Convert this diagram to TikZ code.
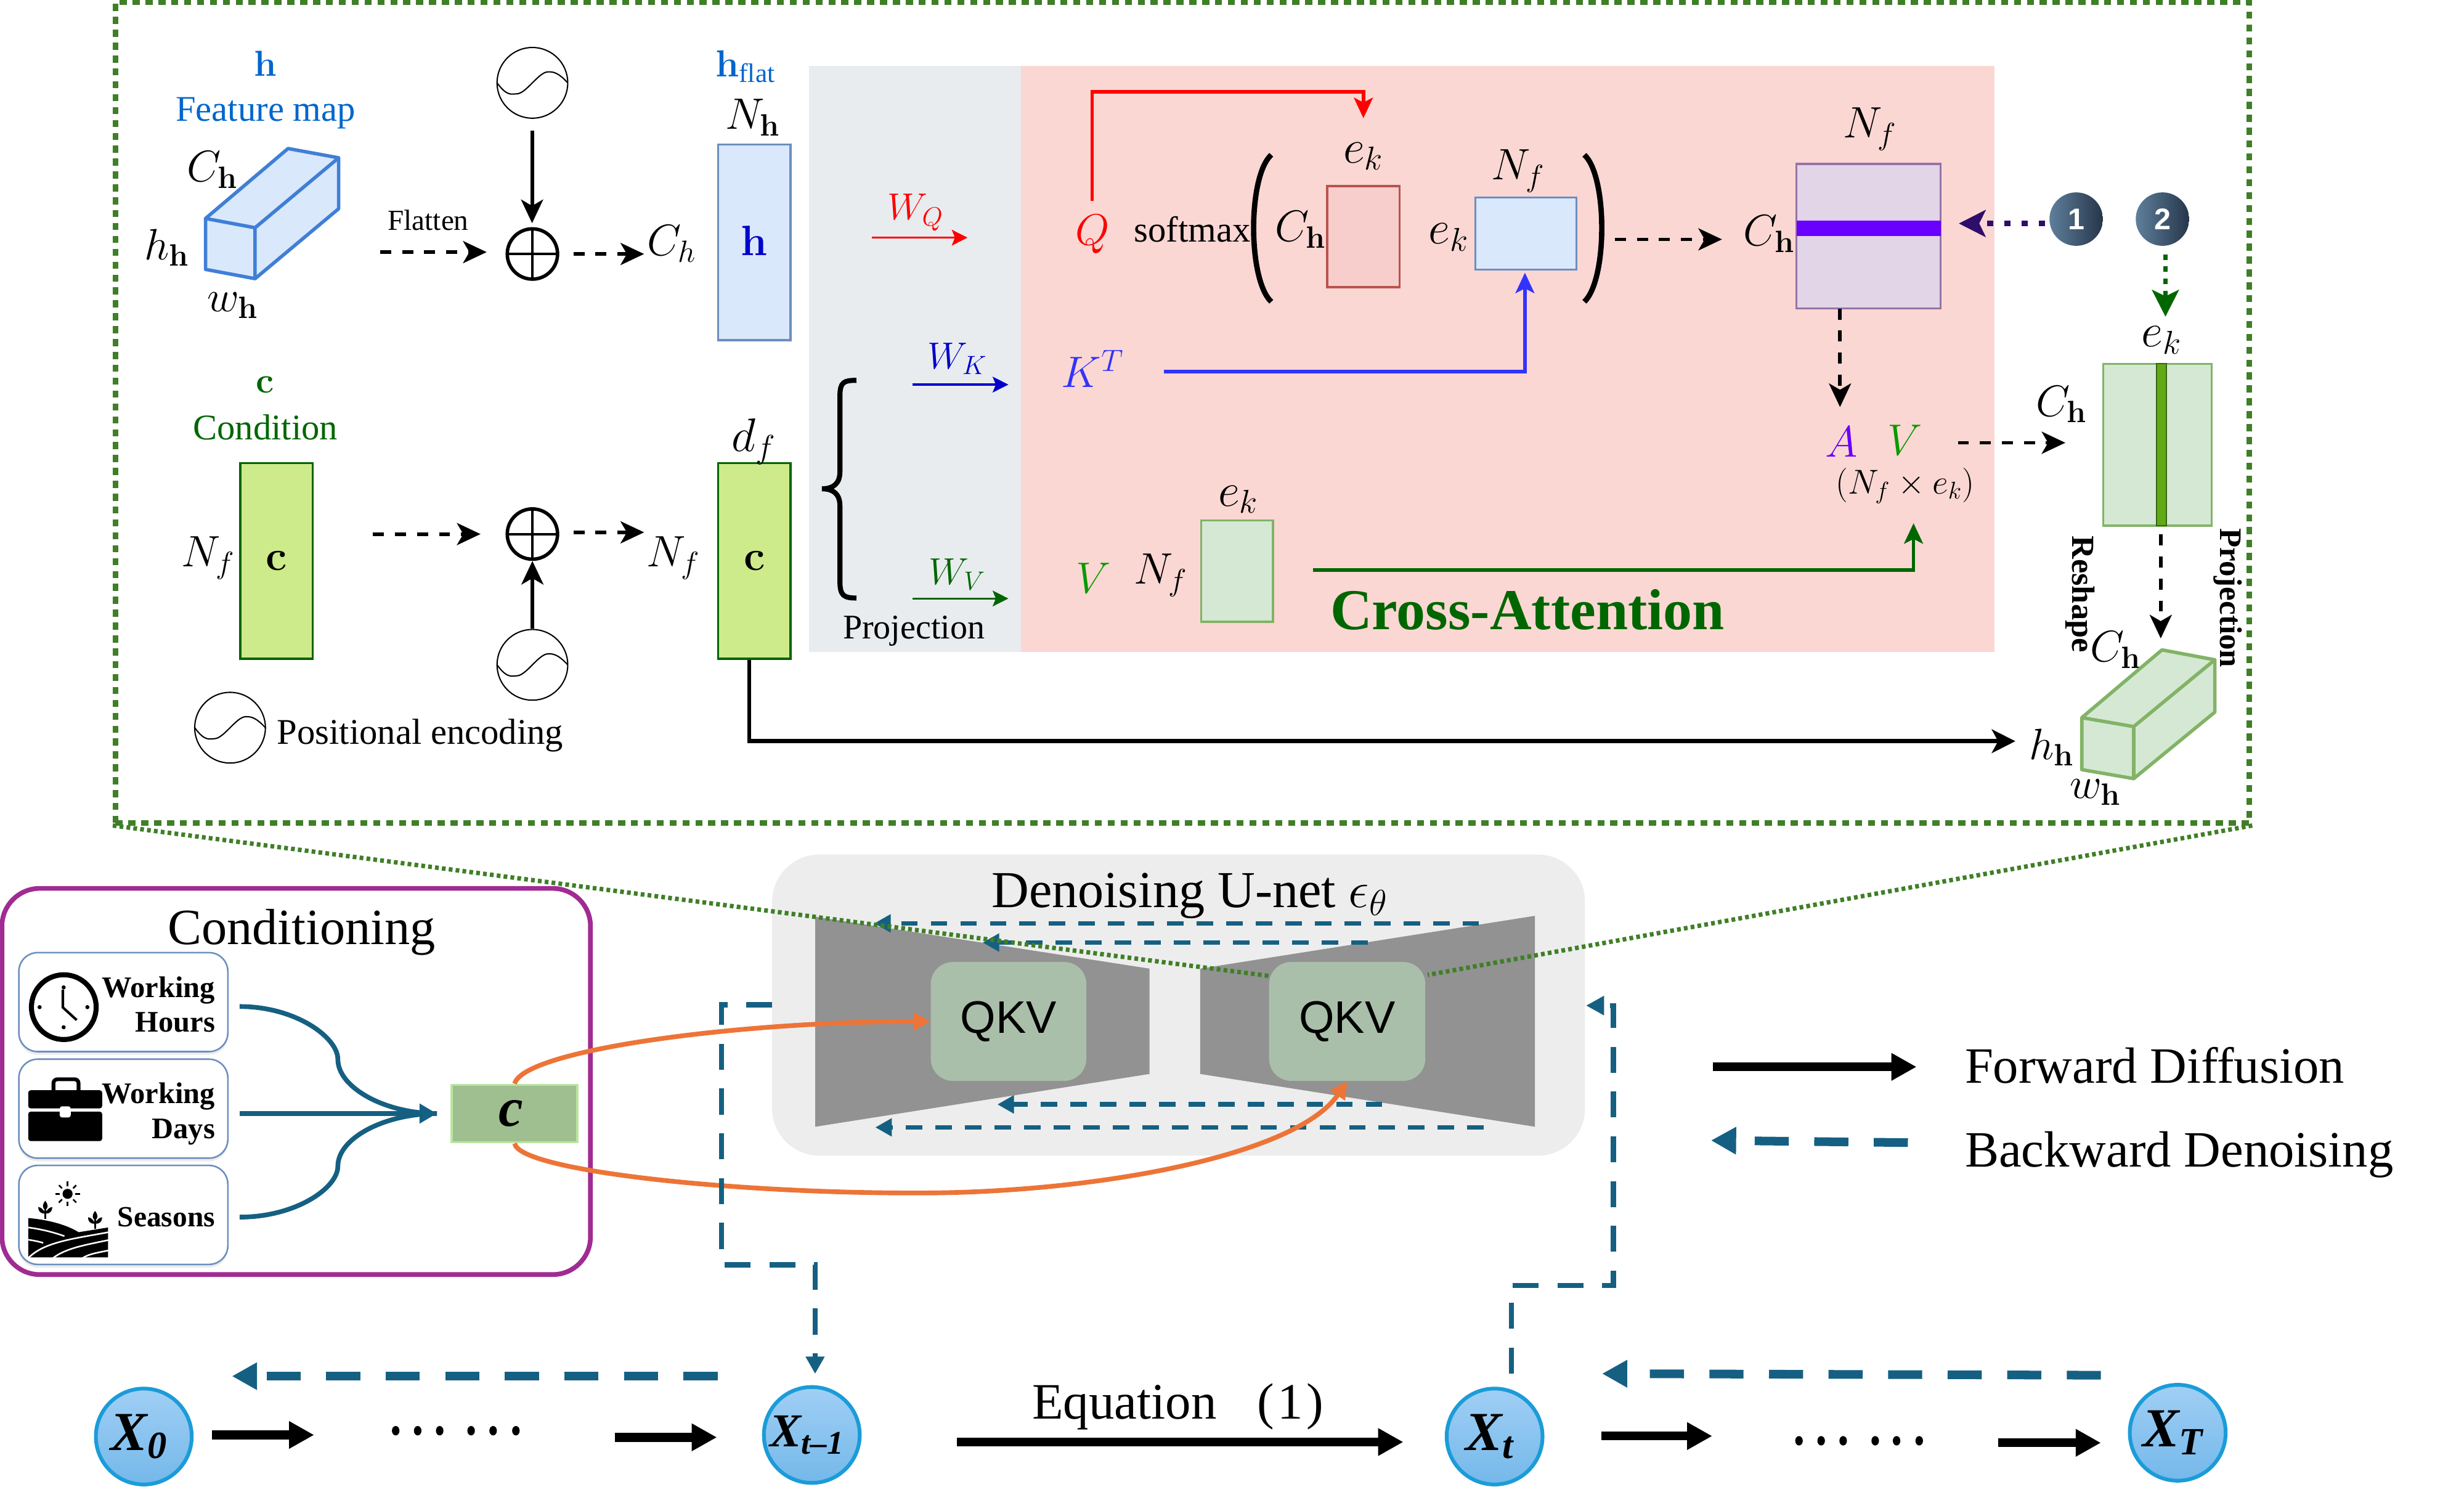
\documentclass[tikz,border=0pt]{standalone}
\usepackage{fix-cm}
\usepackage{amsmath, amssymb}
\usepackage[no-math]{fontspec}
\setmainfont{Liberation Serif}
\newfontfamily\sansfont{Liberation Sans}
\usepackage{tikz}
\usetikzlibrary{arrows.meta, shapes, shadows}

\newcommand{\fs}[1]{\fontsize{#1}{#1}\selectfont}
\newcommand{\balltext}[1]{\hspace*{-6pt}\raisebox{-3pt}{#1}}

\definecolor{boxgreen}{HTML}{3F7F27}
\definecolor{hblue}{HTML}{0066CC}
\definecolor{cgreen}{HTML}{006600}
\definecolor{vgreen}{HTML}{0A9900}
\definecolor{attnpurple}{HTML}{6A00FF}
\definecolor{arrowblue}{HTML}{156082}
\definecolor{arroworange}{HTML}{ED7437}
\definecolor{condpurple}{HTML}{A02B93}
\definecolor{cubeedge}{HTML}{3F7FD6}
\definecolor{blueface}{HTML}{DAE8FC}
\definecolor{blueedge}{HTML}{6C8EBF}
\definecolor{limeface}{HTML}{CDEB8B}
\definecolor{greenface}{HTML}{D5E8D4}
\definecolor{greenedge}{HTML}{82B366}
\definecolor{redface}{HTML}{F8CECC}
\definecolor{rededge}{HTML}{B85450}
\definecolor{purpface}{HTML}{E1D5E7}
\definecolor{purpedge}{HTML}{9673A6}
\definecolor{grayband}{HTML}{E9ECEF}
\definecolor{pinkband}{HTML}{FAD7D3}
\definecolor{unetback}{HTML}{EDEDED}
\definecolor{unetgray}{HTML}{929292}
\definecolor{qkvface}{HTML}{A9BFAA}
\definecolor{ballhigh}{HTML}{A0CFF5}
\definecolor{balllow}{HTML}{74B8EA}
\definecolor{balledge}{HTML}{1B9CD8}
\definecolor{stepdark}{HTML}{26364A}
\definecolor{steplight}{HTML}{5F7F9B}
\definecolor{stepline}{HTML}{2E0D6B}
\definecolor{bandgreen}{HTML}{60A917}
\definecolor{cboxface}{HTML}{A0BF90}
\definecolor{cboxedge}{HTML}{B9E5A0}
\definecolor{wblue}{HTML}{0000CC}
\definecolor{kblue}{HTML}{3333FF}

\tikzset{
  lab/.style={font=\fs{28}},
  labek/.style={font=\fs{30}},
  rect/.style={draw, line width=1.3pt, inner sep=0pt},
  dashblack/.style={line width=2.3pt, dash pattern=on 7pt off 7pt, -{Stealth[length=15pt,width=14pt,inset=4pt]}},
  solidblack/.style={line width=2.3pt, -{Stealth[length=15pt,width=14pt,inset=4pt]}},
  smallarrow/.style={line width=1.3pt, -{Stealth[length=10pt,width=10pt,inset=2pt]}},
  panelarrow/.style={line width=2.2pt, -{Stealth[length=13pt,width=12pt,inset=3pt]}},
  thindash/.style={color=arrowblue, line width=3.3pt, dash pattern=on 16.5pt off 12pt},
  unetdash/.style={color=arrowblue, line width=3pt, dash pattern=on 10.5pt off 8.3pt, -{Triangle[length=10.5pt,width=11pt]}},
  bigdash/.style={color=arrowblue, line width=5.5pt, dash pattern=on 21.7pt off 16.2pt, -{Triangle[length=16pt,width=16.5pt]}},
  bigsolid/.style={line width=5.6pt, -{Triangle[length=16pt,width=16.5pt]}},
  orangeline/.style={color=arroworange, line width=3pt, -{Triangle[length=11pt,width=11pt]}},
  sinenode/.style={circle, draw, line width=.8pt, minimum size=45pt, inner sep=0pt,
    path picture={\draw[line width=.8pt, shift={(path picture bounding box.center)}]
      (-22.5,0) .. controls (-16,9) and (-13,7) .. (-10,7)
      .. controls (-4,7) and (4,-7) .. (10,-7)
      .. controls (13,-7) and (16,-7) .. (22.5,0);}},
  plusnode/.style={circle, draw, line width=2.2pt, minimum size=32pt, inner sep=0pt,
    path picture={\draw[line width=1.5pt, shift={(path picture bounding box.center)}]
      (-17,0) -- (17,0) (0,-17) -- (0,17);}},
  itembox/.style={draw=blueedge, fill=white, line width=1pt, rounded corners=12pt, minimum width=133pt,
    minimum height=63pt, drop shadow={shadow xshift=0pt, shadow yshift=-2pt, fill=black!15}},
  itemtext/.style={font=\fs{19}\bfseries, anchor=east},
  xball/.style={circle, draw=balledge, line width=2.4pt, minimum size=61pt, inner sep=0pt,
    top color=ballhigh, bottom color=balllow, font=\fs{35}\bfseries\itshape},
  stepball/.style={circle, minimum size=34pt, inner sep=0pt, left color=steplight, right color=stepdark,
    text=white, font=\fs{19}\sansfont\bfseries},
}

\begin{document}
\begin{tikzpicture}[x=1pt, y=-1pt, every node/.append style={inner sep=0pt}]
\useasboundingbox (0,0) rectangle (1568,946.1);

\begin{scope}
    \node [fill=grayband, minimum width=135pt, minimum height=373pt] (projband) at (582.4,228.4) {};
    \node [fill=pinkband, minimum width=619.5pt, minimum height=373pt] (attnband) at (959.6,228.4) {};
    \node [draw=boxgreen, line width=3.5pt, dash pattern=on 4.5pt off 3.7pt, minimum width=1358pt, minimum height=522pt] (zoombox) at (752.5,262.5) {};

    % feature map
    \node [font=\fs{23}, text=hblue] (hlab) at (169,40.5) {$\mathbf{h}$};
    \node [font=\fs{23}, text=hblue] (hname) at (169,72) {Feature map};
    \node [lab] (Chtop) at (135.3,108) {$C_{\mathbf{h}}$};
    \node [lab] (hhtop) at (106.2,157.5) {$h_{\mathbf{h}}$};
    \node [lab] (whtop) at (148,194.4) {$w_{\mathbf{h}}$};
    \node [font=\fs{18.5}] (flat) at (272.5,140) {Flatten};
    \node [sinenode] (sineA) at (338.8,52.7) {};
    \node [plusnode] (plusA) at (338.8,161.6) {};
    \node [lab] (Chit) at (427.3,155) {$C_{h}$};
    \node [rect, draw=blueedge, fill=blueface, minimum width=46pt, minimum height=124.5pt, font=\fs{27}, text=wblue] (hflat) at (480.1,154.2) {\raisebox{2pt}{$\mathbf{h}$}};
    \node [font=\fs{24}, text=hblue] (hflatlab) at (474.4,42.3) {$\mathbf{h}_{\mbox{\fs{17}flat}}$};
    \node [lab] (Nh) at (479,74.7) {$N_{\mathbf{h}}$};

    % condition
    \node [font=\fs{23}, text=cgreen] (clab) at (168.6,244.8) {$\mathbf{c}$};
    \node [font=\fs{23}, text=cgreen] (cname) at (168.9,271.8) {Condition};
    \node [rect, draw=cgreen, fill=limeface, minimum width=46pt, minimum height=124.5pt, font=\fs{27}] (cin) at (175.9,356.9) {\raisebox{-2pt}{$\mathbf{c}$}};
    \node [lab] (Nfin) at (132.3,355) {$N_f$};
    \node [plusnode] (plusB) at (338.8,339.8) {};
    \node [sinenode] (sineB) at (338.8,423) {};
    \node [lab] (Nfout) at (428.5,355) {$N_f$};
    \node [rect, draw=cgreen, fill=limeface, minimum width=46pt, minimum height=124.5pt, font=\fs{27}] (cflat) at (480.1,356.9) {\raisebox{-2pt}{$\mathbf{c}$}};
    \node [labek] (df) at (479.8,280.9) {$d_f$};
    \node [sinenode] (sineC) at (146.4,463) {};
    \node [font=\fs{23}] (poslab) at (267.4,468) {Positional encoding};

    % projection
    \node [font=\fs{24}, text=red] (WQ) at (582.5,135.2) {$W_Q$};
    \node [font=\fs{24}, text=wblue] (WK) at (609.2,228.2) {$W_K$};
    \node [font=\fs{24}, text=cgreen] (WV) at (609.2,365.3) {$W_V$};
    \node [font=\fs{22}] (proj) at (581.6,401.5) {Projection};

    % cross attention
    \node [font=\fs{28}, text=red] (Q) at (695.3,149) {$Q$};
    \node [font=\fs{28}, text=kblue] (KT) at (695.3,234.5) {$K^T$};
    \node [font=\fs{28}, text=vgreen] (V) at (696,367.8) {$V$};
    \node [font=\fs{23}] (soft) at (758.7,146) {softmax};
    \node [lab] (Chq) at (827.7,146) {$C_{\mathbf{h}}$};
    \node [labek] (ekq) at (867.6,99.4) {$e_k$};
    \node [rect, draw=rededge, fill=redface, minimum width=46pt, minimum height=64.3pt] (qmat) at (867.6,150.5) {};
    \node [labek] (ekk) at (921.9,151) {$e_k$};
    \node [lab] (Nfk) at (966.1,108.9) {$N_f$};
    \node [rect, draw=blueedge, fill=blueface, minimum width=64.4pt, minimum height=45.8pt] (kmat) at (971,148.6) {};
    \node [lab] (Nfv) at (738.6,366) {$N_f$};
    \node [labek] (ekv) at (788,317.8) {$e_k$};
    \node [rect, draw=greenedge, fill=greenface, minimum width=45.8pt, minimum height=64.6pt] (vmat) at (787.2,363.3) {};
    \node [font=\fs{36.8}\bfseries, text=cgreen] (cross) at (972,388) {Cross-Attention};
    \node [lab] (Chs) at (1125.8,148.9) {$C_{\mathbf{h}}$};
    \node [lab] (Nfs) at (1190,82) {$N_f$};
    \node [rect, draw=purpedge, fill=purpface, minimum width=91.8pt, minimum height=92pt] (smat) at (1189.1,150.3) {};
    \node [fill=attnpurple, minimum width=91.8pt, minimum height=10pt] (sband) at (1189.1,145.2) {};
    \node [font=\fs{28}, text=attnpurple] (A) at (1171.8,281) {$A$};
    \node [font=\fs{28}, text=vgreen] (Vout) at (1212.3,280) {$V$};
    \node [font=\fs{22}] (shape) at (1212.3,309) {$(N_f \times e_k)$};
    \node [stepball] (one) at (1321.2,139.4) {1};
    \node [stepball] (two) at (1376.1,139.4) {2};

    % output
    \node [labek] (ekout) at (1375.5,216.5) {$e_k$};
    \node [lab] (Chout) at (1311.9,257.3) {$C_{\mathbf{h}}$};
    \node [rect, draw=greenedge, fill=greenface, minimum width=69pt, minimum height=103pt] (omat) at (1372.8,282.9) {};
    \node [draw=bandgreen!60!black, line width=.8pt, fill=bandgreen, minimum width=6pt, minimum height=103pt] (oband) at (1375.5,282.9) {};
    \node [font=\fs{20.5}\bfseries, rotate=-90] (resh) at (1323.9,378) {Reshape};
    \node [font=\fs{20}\bfseries, rotate=-90] (projout) at (1417.8,380.4) {Projection};
    \node [lab] (Chc) at (1346.4,413.5) {$C_{\mathbf{h}}$};
    \node [lab] (hhc) at (1305.5,475.5) {$h_{\mathbf{h}}$};
    \node [lab] (whc) at (1333.5,504) {$w_{\mathbf{h}}$};
\end{scope}

% cuboids
\begin{scope}[line width=2.2pt, line join=round]
    \filldraw [draw=cubeedge, fill=blueface] (130.8,139) -- (183.3,94.5) -- (215.5,100.4) -- (215.5,132.8) -- (162.3,177.3) -- (130.8,171.4) -- cycle;
    \draw [cubeedge] (130.8,139) -- (162.3,144.9) -- (162.3,177.3);
    \draw [cubeedge] (162.3,144.9) -- (215.5,100.4);
    \filldraw [draw=greenedge, fill=greenface] (1324.8,456.6) -- (1375.8,413.5) -- (1409.4,419.8) -- (1409.4,453.1) -- (1357.8,495.4) -- (1324.8,489.7) -- cycle;
    \draw [greenedge] (1324.8,456.6) -- (1357.8,462.3) -- (1357.8,495.4);
    \draw [greenedge] (1357.8,462.3) -- (1409.4,419.8);
\end{scope}

% free ends of the connectors in the top panel
\coordinate (flatS) at (241.9,160.4);
\coordinate (flatE) at (309.7,160.4);
\coordinate (plusAS) at (364.9,161.6);
\coordinate (plusAE) at (409.9,161.6);
\coordinate (cS) at (237.4,339.8);
\coordinate (cE) at (305.8,339.8);
\coordinate (plusBS) at (364.9,338.7);
\coordinate (plusBE) at (409.9,338.7);
\coordinate (sineAS) at (338.6,83);
\coordinate (plusAT) at (338.6,142);
\coordinate (cdown) at (476.8,471.6);
\coordinate (cend) at (1282.5,471.6);
\coordinate (wqS) at (554.9,151.2);
\coordinate (wqE) at (615.7,151.2);
\coordinate (wkS) at (580.6,244.7);
\coordinate (wkE) at (641.7,244.7);
\coordinate (wvS) at (580.6,380.8);
\coordinate (wvE) at (641.7,380.8);
\coordinate (qS) at (695,127.7);
\coordinate (qT) at (695,58.4);
\coordinate (qU) at (867.6,58.4);
\coordinate (qE) at (867.6,75.2);
\coordinate (kS) at (740.8,236.5);
\coordinate (kT) at (970.4,236.5);
\coordinate (kE) at (970.4,173.5);
\coordinate (vS) at (835.5,362.8);
\coordinate (vT) at (1217.7,362.8);
\coordinate (vE) at (1217.7,332.9);
\coordinate (sS) at (1027.7,152.3);
\coordinate (sE) at (1095.8,152.3);
\coordinate (aS) at (1170.9,196.3);
\coordinate (aE) at (1170.9,259);
\coordinate (aoS) at (1245.9,281.7);
\coordinate (aoE) at (1314.3,281.7);
\coordinate (oS) at (1375,340.1);
\coordinate (cubeE) at (1375,406.2);
\coordinate (oneS) at (1301.4,142.2);
\coordinate (oneE) at (1246.5,142.2);
\coordinate (twoS) at (1378,161.8);
\coordinate (twoE) at (1378,201.5);

\begin{scope}
    \path [dashblack] (flatS) edge (flatE);
    \path [dashblack] (plusAS) edge (plusAE);
    \path [dashblack] (cS) edge (cE);
    \path [dashblack] (plusBS) edge (plusBE);
    \path [solidblack] (sineAS) edge (plusAT);
    \path [solidblack] (sineB.north) edge (plusB.south);
    \draw [line width=2.6pt, -{Stealth[length=15pt,width=15pt,inset=4pt]}] (cflat.south -| cdown) -- (cdown) -- (cend);

    \path [smallarrow, color=red] (wqS) edge (wqE);
    \path [smallarrow, color=wblue] (wkS) edge (wkE);
    \path [smallarrow, color=cgreen] (wvS) edge (wvE);

    \draw [panelarrow, red] (qS) -- (qT) -- (qU) -- (qE);
    \draw [panelarrow, kblue] (kS) -- (kT) -- (kE);
    \draw [panelarrow, cgreen] (vS) -- (vT) -- (vE);
    \path [dashblack] (sS) edge (sE);
    \path [dashblack] (aS) edge (aE);
    \path [dashblack] (aoS) edge (aoE);
    \path [dashblack] (oS) edge (cubeE);
    \path [color=stepline, line width=3.3pt, dash pattern=on 4pt off 7pt, -{Stealth[length=17pt,width=17pt,inset=4pt]}] (oneS) edge (oneE);
    \path [color=cgreen, line width=3pt, dash pattern=on 3.5pt off 4.2pt, -{Stealth[length=17pt,width=17pt,inset=4pt]}] (twoS) edge (twoE);
\end{scope}

% brace and parentheses
\draw [line width=3.2pt] (545,242) .. controls (537,242) and (534.5,243) .. (534.5,252) -- (534.5,300) .. controls (534.5,308) and (530,311) .. (523,311) .. controls (530,311) and (534.5,314) .. (534.5,322) -- (534.5,370) .. controls (534.5,379) and (537,380.5) .. (545,380.5);
\draw [line width=3.4pt] (809,98.5) .. controls (794,112) and (794,178) .. (809,192);
\draw [line width=3.4pt] (1008.2,98.5) .. controls (1023,112) and (1023,178) .. (1008.2,192);

% conditioning
\node [draw=condpurple, line width=3pt, rounded corners=24pt, minimum width=374.5pt, minimum height=245.7pt] (condbox) at (188.5,688.1) {};
\node [font=\fs{32.3}] (condname) at (192,593) {Conditioning};
\node [itembox] (hours) at (78.5,637.6) {};
\node [itembox] (days) at (78.5,705.4) {};
\node [itembox] (seasons) at (78.5,773) {};
\node [itemtext] (workA) at (137,630) {Working};
\node [itemtext] (hoursB) at (137,650.3) {Hours};
\node [itemtext] (workB) at (137,697.4) {Working};
\node [itemtext] (daysB) at (137,720.3) {Days};
\node [itemtext, font=\fs{18.6}\bfseries] (seas) at (137,774.4) {Seasons};

% clock
\draw [line width=3.2pt] (40.6,640.8) ellipse [x radius=20.6, y radius=20.6];
\foreach \x/\y in {40.5/628.2, 40.5/653.6, 25.2/640.8, 55.6/640.8} \fill (\x,\y) circle (1.3);
\draw [line width=1.6pt] (40,629.6) -- (40,641) -- (48.8,649);
% briefcase
\fill [rounded corners=1.5pt] (18,693.7) rectangle (65,705.2);
\fill [rounded corners=1.5pt] (18,707.3) rectangle (65,726);
\draw [line width=2.4pt, rounded corners=2.5pt] (34,694) -- (34,686.7) -- (50,686.7) -- (50,694);
\fill [white, rounded corners=1.5pt] (38,703.9) rectangle (45,711);
% field
\fill (43,759.6) circle (3.2);
\foreach \a in {0,45,...,315} \draw [line width=1pt] (43,759.6) ++(\a:5) -- ++(\a:2.8);
\fill (18,775) .. controls (30,776) and (42,779) .. (50,784) -- (68.8,781) -- (68.8,800) -- (18,800) -- cycle;
\draw [white, line width=1pt] (18,800.5) .. controls (28,790) and (48,788) .. (69,784);
\draw [white, line width=1pt] (33.7,800.5) .. controls (42,794) and (55,792) .. (69,789);
\draw [white, line width=1pt] (52.5,800.5) .. controls (56,798) and (62,797) .. (69,795.6);
\draw [white, line width=1pt] (18,781) .. controls (26,782) and (34,784) .. (41,786.5);
\draw [white, line width=1pt] (18,788.8) .. controls (21,789.2) and (25,790) .. (27.5,790.8);
\foreach \x/\y in {28.8/775.5, 60.5/782} {
    \draw [line width=1pt] (\x,\y) -- (\x,\y-6);
    \fill (\x,\y-11.5) .. controls (\x+2,\y-9) and (\x+2,\y-7) .. (\x,\y-5.5) .. controls (\x-2,\y-7) and (\x-2,\y-9) .. (\x,\y-11.5);
    \fill (\x,\y-3.5) .. controls (\x-1,\y-6) and (\x-3,\y-7.5) .. (\x-4.5,\y-7.5) .. controls (\x-4.5,\y-5) and (\x-3,\y-3) .. (\x,\y-3.5);
    \fill (\x,\y-3.5) .. controls (\x+1,\y-6) and (\x+3,\y-7.5) .. (\x+4.5,\y-7.5) .. controls (\x+4.5,\y-5) and (\x+3,\y-3) .. (\x,\y-3.5);
}

\node [draw=cboxedge, fill=cboxface, line width=1.5pt, minimum width=80pt, minimum height=36.5pt, font=\fs{35}\bfseries\itshape] (cbox) at (327.5,708.5) {\hspace*{-5pt}\raisebox{-3pt}{c}};
\coordinate (hoursS) at (152.5,640.4);
\coordinate (daysS) at (152.5,708.5);
\coordinate (seasS) at (152.5,774.4);
\coordinate (cin2) at (278,708.5);
\draw [arrowblue, line width=3pt] (hoursS) .. controls (188,640.4) and (215,660) .. (215,674) .. controls (215,692) and (245,708.5) .. (cin2);
\draw [arrowblue, line width=3pt] (seasS) .. controls (188,774.4) and (215,756) .. (215,742) .. controls (215,724) and (245,708.5) .. (cin2);
\path [color=arrowblue, line width=3.3pt, -{Triangle[length=11pt,width=12pt]}] (daysS) edge (cin2);

% denoising u-net
\node [fill=unetback, rounded corners=30pt, minimum width=517.3pt, minimum height=191.6pt] (unet) at (750,639.5) {};
\node [font=\fs{33}] (unetname) at (757,570) {Denoising U-net $\epsilon_\theta$};
\fill [unetgray] (518.8,583.3) -- (731.5,616.3) -- (731.5,683.3) -- (518.8,716.9) -- cycle;
\fill [unetgray] (976.8,582.7) -- (763.7,616.3) -- (763.7,683.3) -- (976.8,716.9) -- cycle;

\coordinate (u1S) at (941.2,587.5);
\coordinate (u1E) at (556.3,587.5);
\coordinate (u2S) at (870.3,599.7);
\coordinate (u2E) at (625.3,599.7);
\coordinate (u3S) at (879.6,702.7);
\coordinate (u3E) at (634.7,702.7);
\coordinate (u4S) at (944.2,717.3);
\coordinate (u4E) at (557,717.3);
\path [unetdash] (u1S) edge (u1E);
\path [unetdash] (u2S) edge (u2E);
\path [unetdash] (u3S) edge (u3E);
\path [unetdash] (u4S) edge (u4E);

\node [fill=qkvface, rounded corners=14pt, minimum width=99pt, minimum height=75.6pt, font=\fs{29}\sansfont] (qkvL) at (641.8,649.9) {\raisebox{-2pt}{QKV}};
\node [fill=qkvface, rounded corners=14pt, minimum width=99.4pt, minimum height=75.6pt, font=\fs{29}\sansfont] (qkvR) at (857.3,649.9) {\raisebox{-2pt}{QKV}};

\coordinate (zoomL) at (807.3,620.9);
\coordinate (zoomR) at (908.5,620.3);
\draw [color=boxgreen, line width=2.8pt, dash pattern=on 2.4pt off 2pt] (zoombox.south west) -- (zoomL);
\draw [color=boxgreen, line width=2.8pt, dash pattern=on 2.4pt off 2pt] (zoombox.south east) -- (zoomR);

\draw [orangeline] (cbox.north) .. controls (333,668) and (470,650) .. (qkvL.west);
\draw [orangeline] (cbox.south) .. controls (330,745) and (470,760) .. (593,759) .. controls (700,758) and (825,735) .. (qkvR.south);

% diffusion chain
\node [xball] (X0) at (91.5,914) {\balltext{X\textsubscript{0}}};
\node [xball, font=\fs{30}\bfseries\itshape] (Xt1) at (516.6,913) {\balltext{X\textsubscript{t--1}}};
\node [xball] (Xt) at (951.1,914) {\balltext{X\textsubscript{t}}};
\node [xball] (XT) at (1385.8,911.6) {\balltext{X\textsubscript{T}}};

\coordinate (c1S) at (134.8,913);
\coordinate (c1E) at (199.9,913);
\coordinate (c2S) at (391.2,914.5);
\coordinate (c2E) at (456.2,914.5);
\coordinate (eqS) at (608.9,917.5);
\coordinate (eqE) at (893,917.5);
\coordinate (c3S) at (1019.1,913.7);
\coordinate (c3E) at (1089.6,913.7);
\coordinate (c4S) at (1271.5,918);
\coordinate (c4E) at (1336.9,918);
\path [bigsolid] (c1S) edge (c1E);
\path [bigsolid] (c2S) edge (c2E);
\path [bigsolid] (eqS) edge (eqE);
\path [bigsolid] (c3S) edge (c3E);
\path [bigsolid] (c4S) edge (c4E);
\foreach \x in {251.8,265.8,279.8,299.8,313.8,328.3} \fill (\x,910.3) ellipse [x radius=2.4, y radius=3];
\foreach \x in {1144.8,1158.9,1172.9,1193.3,1206.9,1221.3} \fill (\x,916.7) ellipse [x radius=2.4, y radius=3];
\node [font=\fs{32.5}] (eqn) at (749.5,895) {Equation\hspace{26pt}(\hspace{2pt}1\hspace{2pt})};

\coordinate (b1S) at (456.7,875.6);
\coordinate (b1E) at (147.6,875.6);
\coordinate (b2S) at (1336.9,875);
\coordinate (b2E) at (1019.5,874);
\path [bigdash] (b1S) edge (b1E);
\path [bigdash] (b2S) edge (b2E);

\coordinate (leftS) at (491.4,639.3);
\coordinate (leftA) at (459.2,639.3);
\coordinate (leftB) at (459.2,804.7);
\coordinate (leftC) at (518.7,804.7);
\coordinate (leftD) at (518.7,874.1);
\draw [thindash, -{Triangle[length=11pt,width=11.5pt]}] (leftS) -- (leftA) -- (leftB) -- (leftC) -- (leftD);
\coordinate (rightS) at (961.7,874);
\coordinate (rightA) at (961.7,817.9);
\coordinate (rightB) at (1026.7,817.9);
\coordinate (rightC) at (1026.7,639.8);
\coordinate (rightD) at (1009.3,639.8);
\draw [thindash, -{Triangle[length=11.5pt,width=11.7pt]}] (rightS) -- (rightA) -- (rightB) -- (rightC) -- (rightD);

% legend
\coordinate (fwdS) at (1090,678.8);
\coordinate (fwdE) at (1219.6,678.8);
\coordinate (bckS) at (1214.1,727);
\coordinate (bckE) at (1088.8,725.6);
\path [bigsolid] (fwdS) edge (fwdE);
\path [bigdash] (bckS) edge (bckE);
\node [font=\fs{32.4}, anchor=west] (fwdname) at (1250.2,677.8) {Forward Diffusion};
\node [font=\fs{32.4}, anchor=west] (bckname) at (1250.2,734.5) {Backward Denoising};
\end{tikzpicture}
\end{document}
